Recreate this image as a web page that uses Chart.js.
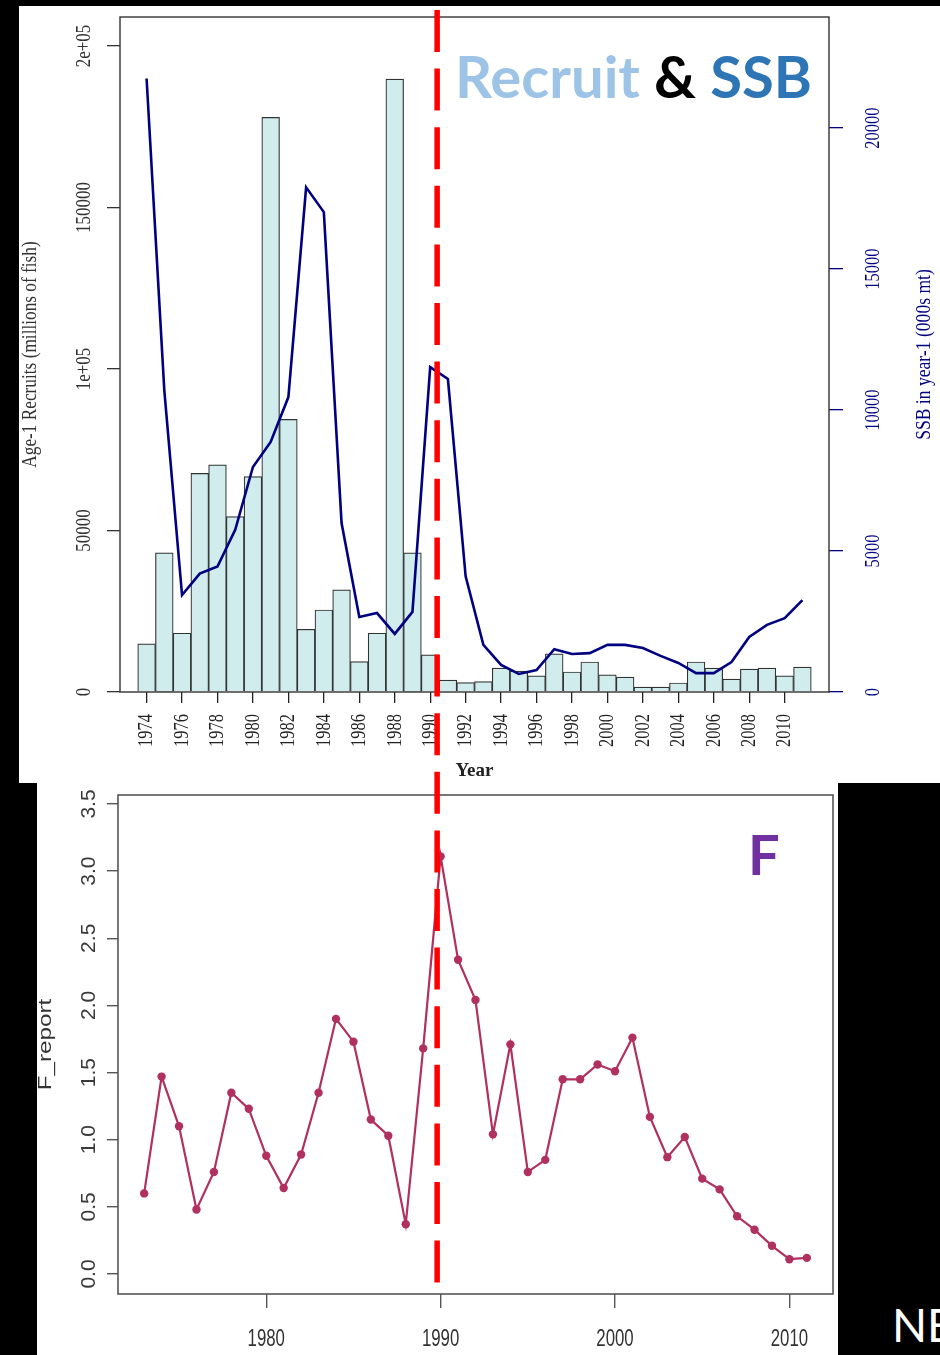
<!DOCTYPE html>
<html>
<head>
<meta charset="utf-8">
<script src="https://cdn.jsdelivr.net/npm/chart.js@4.4.1/dist/chart.umd.min.js"></script>
<style>
  html, body { margin:0; padding:0; }
  body { background:#000; width:940px; height:1355px; overflow:hidden; position:relative; }
  .panel { position:absolute; background:#fff; }
  .panel canvas { display:block; }
  #topPanel { left:19px; top:6px; width:921px; height:777px; }
  #botPanel { left:37px; top:783px; width:801px; height:572px; }
  .slideText { position:absolute; font-family:Lato, "Open Sans", sans-serif; line-height:1.2; white-space:nowrap; z-index:5; }
  #ttl1 { left:455px; top:41px; font-size:58px; font-weight:bold; }
  #ttlF { left:748px; top:820px; font-size:56px; font-weight:bold; color:#7030a0; }
  #ne { left:892px; top:1297px; font-size:46px; color:#fff; }
</style>
</head>
<body>
<div id="topPanel" class="panel"><canvas id="topCanvas" width="921" height="777"></canvas></div>
<div id="botPanel" class="panel"><canvas id="botCanvas" width="801" height="572"></canvas></div>
<div id="ttl1" class="slideText"><span style="color:#9dc3e6">Recruit</span> <span style="color:#000">&amp;</span> <span style="color:#2e75b6">SSB</span></div>
<div id="ttlF" class="slideText">F</div>
<div id="ne" class="slideText">NE</div>
<script>
// ---------------- data ----------------
const years = [1974,1975,1976,1977,1978,1979,1980,1981,1982,1983,1984,1985,1986,1987,1988,1989,1990,1991,1992,1993,1994,1995,1996,1997,1998,1999,2000,2001,2002,2003,2004,2005,2006,2007,2008,2009,2010,2011];
const recruits = [14900,43100,18200,67700,70300,54300,66700,177900,84400,19400,25400,31600,9400,18200,189800,43100,11500,3700,2900,3200,7400,6500,5000,11800,6200,9300,5300,4600,1500,1500,2800,9300,7400,4000,7100,7400,5000,7700];
const ssb = [21760,10700,3440,4200,4450,5750,7980,8870,10460,17900,17020,5990,2660,2800,2060,2840,11520,11100,4100,1670,960,640,780,1520,1350,1380,1670,1670,1560,1280,1030,670,670,1060,1950,2380,2620,3260];

const fYears = [1973,1974,1975,1976,1977,1978,1979,1980,1981,1982,1983,1984,1985,1986,1987,1988,1989,1990,1991,1992,1993,1994,1995,1996,1997,1998,1999,2000,2001,2002,2003,2004,2005,2006,2007,2008,2009,2010,2011];
const fReport = [0.60,1.47,1.10,0.48,0.76,1.35,1.23,0.88,0.64,0.89,1.35,1.90,1.73,1.15,1.03,0.37,1.68,3.11,2.34,2.04,1.04,1.71,0.76,0.85,1.45,1.45,1.56,1.51,1.76,1.17,0.87,1.02,0.71,0.63,0.43,0.33,0.21,0.11,0.12];

const topYearTicks = [1974,1976,1978,1980,1982,1984,1986,1988,1990,1992,1994,1996,1998,2000,2002,2004,2006,2008,2010];
const recruitTickValues = [0,50000,100000,150000,200000];
const recruitTickLabels = ['0','50000','1e+05','150000','2e+05'];
const ssbTickValues = [0,5000,10000,15000,20000];
const ssbTickLabels = ['0','5000','10000','15000','20000'];
const fYearTicks = [1980,1990,2000,2010];
const fTickValues = [0,0.5,1,1.5,2,2.5,3,3.5];
const fTickLabels = ['0.0','0.5','1.0','1.5','2.0','2.5','3.0','3.5'];
const breakYear = 1989.8;   // red dashed marker, on the F chart's year axis

// ---------------- helpers / plugins ----------------
const SERIF = '"Liberation Serif", "Times New Roman", serif';
const SANS = '"Liberation Sans", Arial, sans-serif';
const UP = -Math.PI / 2;

function setTicks(values) {
  return function (scale) { scale.ticks = values.map(v => ({ value: v })); };
}

const frame = {
  id: 'frame',
  afterDatasetsDraw(chart, args, opts) {
    const a = chart.chartArea, ctx = chart.ctx;
    ctx.save();
    ctx.strokeStyle = opts.color; ctx.lineWidth = opts.width;
    ctx.strokeRect(a.left, a.top, a.right - a.left, a.bottom - a.top);
    ctx.restore();
  }
};

// draws axis tick labels / axis titles (rotated, with horizontal glyph scaling like the source image)
const textLayer = {
  id: 'textLayer',
  afterDraw(chart, args, opts) {
    const ctx = chart.ctx, area = chart.chartArea;
    (opts.items || []).forEach(it => {
      const scale = chart.scales[it.scale];
      ctx.save();
      ctx.font = it.font; ctx.fillStyle = it.color;
      ctx.textBaseline = 'middle'; ctx.textAlign = it.align || 'center';
      const put = (text, x, y) => {
        ctx.save(); ctx.translate(x, y);
        if (it.rotate) ctx.rotate(it.rotate);
        ctx.scale(it.sx || 1, 1);
        ctx.fillText(text, 0, 0);
        ctx.restore();
      };
      const horiz = scale.isHorizontal();
      const sideX = it.side === 'left' ? area.left - it.offset : area.right + it.offset;
      if (it.labels) {
        scale.ticks.forEach((t, i) => {
          const p = scale.getPixelForValue(t.value);
          if (horiz) put(it.labels[i], p, area.bottom + it.offset);
          else put(it.labels[i], sideX, p);
        });
      } else if (it.text) {
        if (horiz) put(it.text, (area.left + area.right) / 2, area.bottom + it.offset);
        else put(it.text, sideX, (area.top + area.bottom) / 2);
      }
      ctx.restore();
    });
  }
};

let fChart = null;
function drawBreakLine(chart, refChart) {
  if (!refChart) return;
  const refRect = refChart.canvas.getBoundingClientRect();
  const myRect = chart.canvas.getBoundingClientRect();
  const xPage = refRect.left + refChart.scales.x.getPixelForValue(breakYear);
  const topPage = 10;
  const botPage = refRect.top + refChart.chartArea.bottom - 11;
  const ctx = chart.ctx;
  ctx.save();
  ctx.strokeStyle = '#ff0000'; ctx.lineWidth = 5.5; ctx.setLineDash([42, 16.6]);
  ctx.beginPath();
  ctx.moveTo(xPage - myRect.left, topPage - myRect.top);
  ctx.lineTo(xPage - myRect.left, botPage - myRect.top);
  ctx.stroke();
  ctx.restore();
}

// ---------------- bottom chart (F) ----------------
fChart = new Chart(document.getElementById('botCanvas'), {
  type: 'line',
  data: {
    datasets: [{
      label: 'F_report',
      data: fYears.map((y, i) => ({ x: y, y: fReport[i] })),
      borderColor: '#b03060', backgroundColor: '#b03060',
      borderWidth: 2.2, tension: 0,
      pointRadius: 4.2, pointBorderWidth: 0, pointBackgroundColor: '#b03060'
    }]
  },
  options: {
    responsive: false, animation: false, events: [],
    layout: { padding: { left: 0, right: 5, top: 12, bottom: 0 } },
    plugins: {
      legend: { display: false }, tooltip: { enabled: false },
      frame: { color: '#555', width: 1.6 },
      textLayer: { items: [
        { scale: 'x', offset: 46, labels: fYearTicks.map(String), font: '23px ' + SANS, sx: 0.73, color: '#333' },
        { scale: 'y', side: 'left', offset: 28.5, rotate: UP, labels: fTickLabels, font: '21px ' + SANS, color: '#3a3a3a' },
        { scale: 'y', side: 'left', offset: 72.3, rotate: UP, text: 'F_report', font: '18.5px ' + SANS, sx: 1.31, color: '#333' }
      ] }
    },
    scales: {
      x: {
        type: 'linear', min: 1971.5, max: 2012.5, offset: false,
        afterBuildTicks: setTicks(fYearTicks),
        ticks: { display: false },
        grid: { drawOnChartArea: false, drawTicks: true, tickLength: 14, color: '#555', lineWidth: 1.4, offset: false },
        border: { display: false },
        afterFit: s => { s.height = 61; }
      },
      y: {
        min: -0.149, max: 3.567,
        afterBuildTicks: setTicks(fTickValues),
        ticks: { display: false },
        grid: { drawOnChartArea: false, drawTicks: true, tickLength: 11, color: '#555', lineWidth: 1.4 },
        border: { display: false },
        afterFit: s => { s.width = 81; }
      }
    }
  },
  plugins: [frame, textLayer, { id: 'breakLineF', afterDraw(chart) { drawBreakLine(chart, chart); } }]
});

// ---------------- top chart (Recruits & SSB) ----------------
const topChart = new Chart(document.getElementById('topCanvas'), {
  type: 'bar',
  data: {
    datasets: [
      {
        type: 'line', label: 'SSB in year-1 (000s mt)', yAxisID: 'y2', order: 0,
        data: years.map((y, i) => ({ x: y, y: ssb[i] })),
        borderColor: '#000080', borderWidth: 2.6, pointRadius: 0, tension: 0
      },
      {
        type: 'bar', label: 'Age-1 Recruits (millions of fish)', yAxisID: 'y', order: 1,
        data: years.map((y, i) => ({ x: y, y: recruits[i] })),
        backgroundColor: '#d0ecec', borderColor: '#333', borderWidth: 1.2,
        barPercentage: 1, categoryPercentage: 1, grouped: false
      }
    ]
  },
  options: {
    responsive: false, animation: false, events: [],
    layout: { padding: { left: 0, right: 0, top: 11, bottom: 0 } },
    plugins: {
      legend: { display: false }, tooltip: { enabled: false },
      frame: { color: '#333', width: 1.4 },
      textLayer: { items: [
        { scale: 'x', offset: 22, rotate: UP, align: 'right', labels: topYearTicks.map(String), font: '22px ' + SERIF, sx: 0.75, color: '#222' },
        { scale: 'y', side: 'left', offset: 35.5, rotate: UP, labels: recruitTickLabels, font: '22px ' + SERIF, sx: 0.77, color: '#333' },
        { scale: 'y', side: 'left', offset: 89.5, rotate: UP, text: 'Age-1 Recruits (millions of fish)', font: '21.6px ' + SERIF, sx: 0.8, color: '#333' },
        { scale: 'y2', side: 'right', offset: 44.5, rotate: UP, labels: ssbTickLabels, font: '22px ' + SERIF, sx: 0.75, color: '#000080' },
        { scale: 'y2', side: 'right', offset: 95.5, rotate: UP, text: 'SSB in year-1 (000s mt)', font: '22px ' + SERIF, sx: 0.8, color: '#000080' }
      ] }
    },
    scales: {
      x: {
        type: 'linear', min: 1972.5, max: 2012.5, offset: false,
        afterBuildTicks: setTicks(topYearTicks),
        ticks: { display: false },
        grid: { drawOnChartArea: false, drawTicks: true, tickLength: 11, color: '#222', lineWidth: 1.3, offset: false },
        border: { display: false },
        title: { display: true, text: 'Year', color: '#222',
                 font: { family: SERIF, size: 19, weight: 'bold' }, padding: { top: 0, bottom: 1 } },
        afterFit: s => { s.height = 91; }
      },
      y: {
        position: 'left', min: 0, max: 209000,
        afterBuildTicks: setTicks(recruitTickValues),
        ticks: { display: false },
        grid: { drawOnChartArea: false, drawTicks: true, tickLength: 13, color: '#333', lineWidth: 1.3 },
        border: { display: false },
        afterFit: s => { s.width = 101; }
      },
      y2: {
        position: 'right', min: 0, max: 23940,
        afterBuildTicks: setTicks(ssbTickValues),
        ticks: { display: false },
        grid: { drawOnChartArea: false, drawTicks: true, tickLength: 14, color: '#000080', lineWidth: 1.3 },
        border: { display: false },
        afterFit: s => { s.width = 111; }
      }
    }
  },
  plugins: [frame, textLayer, { id: 'breakLineTop', afterDraw(chart) { drawBreakLine(chart, fChart); } }]
});
</script>
</body>
</html>
